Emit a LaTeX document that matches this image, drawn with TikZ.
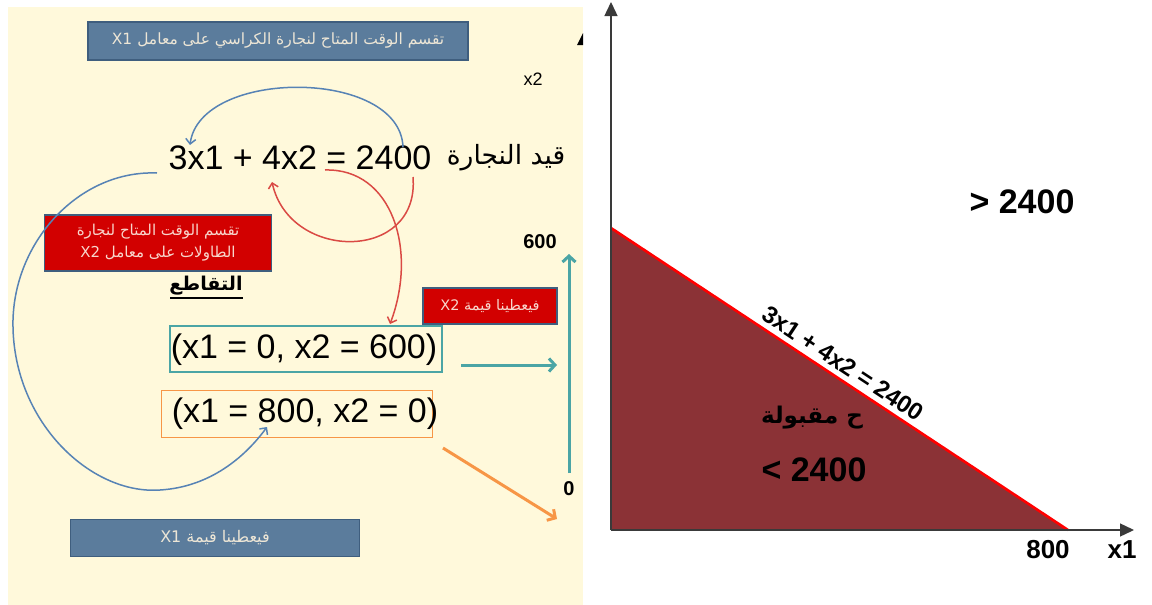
\documentclass[tikz,border=0pt]{standalone}
\usepackage{fontspec}
\setmainfont{Liberation Sans}
\newfontfamily\arabicfont[Script=Arabic]{DejaVu Sans}
\TeXXeTstate=1
\usetikzlibrary{arrows.meta}
\definecolor{cream}{HTML}{FFF9DB}
\definecolor{boxblue}{HTML}{5B7C9C}
\definecolor{boxedge}{HTML}{3F5E7E}
\definecolor{boxred}{HTML}{D20000}
\definecolor{boxtext}{HTML}{EDE6D6}
\definecolor{redtext}{HTML}{F8D6CC}
\definecolor{teal}{HTML}{4BA5A5}
\definecolor{orng}{HTML}{F79646}
\definecolor{arcblue}{HTML}{5783B5}
\definecolor{arcred}{HTML}{DA4A44}
\definecolor{feas}{HTML}{8B3236}
\definecolor{axisc}{HTML}{3A3A3A}
\tikzset{
  bluebox/.style={draw=boxedge, line width=1.8pt, fill=boxblue, text=boxtext, inner sep=0pt},
  redbox/.style={draw=boxedge, line width=1.8pt, fill=boxred, text=redtext, inner sep=0pt, align=center},
  ptbox/.style={line width=1.6pt, inner sep=0pt, fill=cream},
  bigtext/.style={font=\fontsize{34}{38}\selectfont, inner sep=0pt},
  chev/.style={-{Straight Barb[length=6pt,width=13pt]}},
  bluearc/.style={draw=arcblue, line width=1.5pt, -{Straight Barb[length=5pt,width=10pt]}},
  redarc/.style={draw=arcred, line width=1.5pt, -{Straight Barb[length=5pt,width=10pt]}},
  axis/.style={draw=axisc, line width=1.4pt, -{Triangle[length=14pt,width=13pt]}},
  lbl/.style={font=\bfseries\fontsize{26}{30}\selectfont, inner sep=0pt},
  big/.style={font=\bfseries\fontsize{34}{38}\selectfont, inner sep=0pt}
}
\begin{document}
\begin{tikzpicture}[x=1pt,y=-1pt]
\useasboundingbox (0,0) rectangle (1152,605);
\fill[white] (0,0) rectangle (1152,605);
% left panel background
\fill[cream] (8,7) rectangle (583,605);
\fill[black] (577,45) -- (583,33) -- (583,45) -- cycle;

% boxes
\node[bluebox, minimum width=380pt, minimum height=38pt, font=\arabicfont\fontsize{15.5}{18}\selectfont] (topbox) at (278,41)
  {\beginR تقسم الوقت المتاح لنجارة  الكراسي على معامل \beginL X1\endL\endR};
\node[redbox, minimum width=227pt, minimum height=56pt, font=\arabicfont\fontsize{15}{22}\selectfont] (redbig) at (158,243)
  {\beginR تقسم الوقت المتاح لنجارة\endR\\\beginR الطاولات على معامل \beginL X2\endL\endR};
\node[redbox, minimum width=134pt, minimum height=36pt, font=\arabicfont\fontsize{14.5}{17}\selectfont] (redsmall) at (490,306)
  {\beginR فيعطينا قيمة  \beginL X2\endL\endR};
\node[bluebox, minimum width=289pt, minimum height=37pt, font=\arabicfont\fontsize{16}{18}\selectfont] (botbox) at (215,538)
  {\beginR فيعطينا قيمة \beginL X1\endL\endR};

\node[ptbox, draw=teal, minimum width=272pt, minimum height=46pt] (tealbox) at (306,349) {};
\node[ptbox, draw=orng, minimum width=271pt, minimum height=47pt] (orbox) at (297,414) {};
\node[bigtext] (p1) at (304,350) {(x1 = 0, x2 = 600)};
\node[bigtext] (p2) at (305,414) {(x1 = 800, x2 = 0)};

% equation
\node[bigtext] (eq) at (300,158) {3x1 + 4x2 = 2400};
\node[inner sep=0pt, font=\arabicfont\fontsize{26.5}{30}\selectfont] (qayd) at (506,158) {\beginR قيد النجارة\endR};
\node[inner sep=0pt, font=\arabicfont\bfseries\fontsize{19}{22}\selectfont] (taq) at (206,286) {\beginR التقاطع\endR};
\draw[line width=1.2pt] (170,298) -- (243,298);

\node[font=\fontsize{18}{20}\selectfont, inner sep=0pt] (x2l) at (533,79) {x2};
\node[font=\bfseries\fontsize{20}{22}\selectfont, inner sep=0pt] (l600) at (540,242) {600};
\node[font=\bfseries\fontsize{20}{22}\selectfont, inner sep=0pt] (l0) at (569,489) {0};

% coordinates for connectors
\coordinate (tA) at (569,473);
\coordinate (tB) at (569,254);
\coordinate (hA) at (461,365);
\coordinate (hB) at (557,365);
\coordinate (oA) at (443,448);
\coordinate (oB) at (557,519);
\draw[teal, line width=3pt, chev] (tA) -- (tB);
\draw[teal, line width=3pt, chev] (hA) -- (hB);
\draw[orng, line width=3pt, chev] (oA) -- (oB);

% arcs
\coordinate (b1s) at (403,147);
\coordinate (b1e) at (190,145);
\draw[bluearc] (b1s) .. controls (400,68) and (200,68) .. (b1e);
\coordinate (b2s) at (157,173);
\coordinate (b2e) at (267,427);
\draw[bluearc] (b2s) .. controls (80,170) and (15,240) .. (13,320)
   .. controls (11,420) and (90,495) .. (160,490)
   .. controls (210,487) and (245,457) .. (b2e);
\coordinate (r1s) at (413,177);
\coordinate (r1e) at (272,182);
\draw[redarc] (r1s) .. controls (420,262) and (290,262) .. (r1e);
\coordinate (r2s) at (325,170);
\coordinate (r2e) at (390,324);
\draw[redarc] (r2s) .. controls (392,168) and (418,250) .. (r2e);

% right panel
\coordinate (O) at (611,530);
\coordinate (Ytop) at (611,228);
\coordinate (X800) at (1068,530);
\fill[feas] (O) -- (Ytop) -- (X800) -- cycle;
\draw[red, line width=2.6pt] (Ytop) -- node[pos=0.49, sloped, above=5pt, font=\bfseries\fontsize{24}{28}\selectfont, inner sep=0pt, black] (eqlbl) {3x1 + 4x2 = 2400} (X800);
\coordinate (yend) at (611,2);
\coordinate (xend) at (1134,530);
\draw[axis] (O) -- (yend);
\draw[axis] (O) -- (xend);
\node[lbl] (l800) at (1048,550) {800};
\node[lbl] (lx1) at (1122,550) {x1};
\node[big] (gt) at (1022,202) {> 2400};
\node[big] (lt) at (814,470) {< 2400};
\node[inner sep=0pt, font=\arabicfont\bfseries\fontsize{23}{28}\selectfont] (maq) at (812,418) {\beginR ح مقبولة\endR};
\end{tikzpicture}
\end{document}
